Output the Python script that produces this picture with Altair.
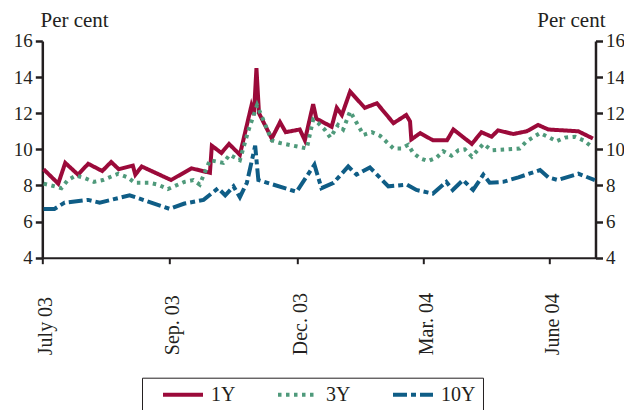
import altair as alt
import pandas as pd

# ---------------- data ----------------
series_names = ["1Y", "3Y", "10Y"]

# x is the observation position on the chart's index axis (tick every 20 units)
t_1y = [0.2, 2.5, 3.6, 5.6, 7.2, 9.4, 10.8, 12.0, 14.2, 14.6, 15.6, 20.2, 23.4, 26.3, 26.6,
        28.1, 29.3, 31.0, 32.8, 33.2, 33.6, 34.0, 36.0, 37.3, 38.2, 40.4, 41.2, 42.5, 43.0,
        45.4, 46.2, 47.0, 48.3, 50.6, 52.5, 55.1, 57.1, 57.7, 57.9, 59.3, 61.3, 63.5, 64.5,
        67.4, 68.9, 70.5, 71.5, 73.9, 76.0, 77.8, 79.4, 84.1, 86.4]
v_1y = [8.9, 8.1, 9.25, 8.6, 9.2, 8.8, 9.3, 8.9, 9.1, 8.6, 9.05, 8.3, 8.95, 8.7, 10.2,
        9.8, 10.3, 9.7, 12.4, 11.9, 14.5, 12.0, 10.6, 11.5, 10.95, 11.1, 10.5, 12.5, 11.7,
        11.25, 12.3, 11.9, 13.2, 12.3, 12.55, 11.45, 11.9, 11.55, 10.55, 10.9, 10.5, 10.5, 11.1,
        10.3, 10.95, 10.7, 11.05, 10.85, 11.0, 11.35, 11.1, 11.0, 10.6]

t_3y = [0.2, 1.4, 3.0, 4.0, 5.3, 6.7, 8.1, 9.5, 11.9, 13.4, 14.5, 16.8, 18.1, 19.7, 22.3,
        23.7, 24.7, 26.3, 28.4, 29.4, 31.0, 32.3, 33.7, 36.0, 37.3, 39.4, 41.5, 42.5, 43.3,
        44.3, 45.2, 46.4, 47.2, 48.3, 50.4, 51.7, 53.0, 55.1, 56.4, 57.4, 58.2, 59.3, 60.5,
        61.9, 62.9, 64.2, 65.3, 66.3, 67.4, 69.2, 70.5, 74.9, 76.0, 78.1, 79.6, 80.7, 82.0,
        83.6, 84.9, 86.4]
v_3y = [8.1, 8.0, 7.85, 8.3, 8.55, 8.4, 8.2, 8.3, 8.65, 8.45, 8.15, 8.15, 8.05, 7.8, 8.2,
        8.3, 8.05, 9.4, 9.25, 9.7, 9.4, 11.0, 12.45, 10.5, 10.35, 10.2, 10.05, 11.65, 11.45,
        11.1, 10.65, 11.35, 11.1, 12.1, 10.8, 10.95, 10.75, 10.05, 10.05, 10.25, 9.8, 9.5, 9.35,
        9.55, 9.9, 9.65, 9.95, 10.0, 9.6, 10.3, 9.95, 10.05, 10.45, 10.9, 10.65, 10.45, 10.65,
        10.7, 10.5, 10.1]

t_10y = [0.2, 1.9, 3.5, 7.2, 9.0, 13.7, 15.0, 20.0, 22.3, 25.3, 27.6, 28.7, 30.0, 31.0, 32.1,
         33.4, 33.9, 39.9, 42.7, 43.8, 45.7, 48.0, 49.3, 51.4, 54.3, 57.2, 58.7, 61.3, 63.4,
         64.4, 66.0, 67.6, 69.2, 70.2, 72.3, 74.7, 78.1, 79.4, 80.9, 84.1, 86.7]
v_10y = [6.7, 6.7, 7.05, 7.2, 7.05, 7.45, 7.3, 6.7, 7.0, 7.2, 7.85, 7.45, 7.95, 7.35, 8.15,
         10.2, 8.3, 7.65, 9.15, 7.85, 8.15, 9.05, 8.6, 9.0, 7.95, 8.05, 7.75, 7.55, 8.2,
         7.75, 8.3, 7.75, 8.6, 8.15, 8.2, 8.45, 8.85, 8.45, 8.3, 8.65, 8.3]

tick_pos = [0, 20, 40, 59.8, 79.6]
tick_lab = ["July 03", "Sep. 03", "Dec. 03", "Mar. 04", "June 04"]
y_ticks = [4, 6, 8, 10, 12, 14, 16]

# ---------------- styling ----------------
colors = ["#9B0A3A", "#4F9A7B", "#0F5D86"]
dashes = [[1, 0], [3.5, 4.5], [14, 4, 5, 4]]
FONT = "Liberation Serif"
TXT = "#231F20"

rows = []
for name, ts, vs in zip(series_names, [t_1y, t_3y, t_10y], [v_1y, v_3y, v_10y]):
    for t, v in zip(ts, vs):
        rows.append({"t": t, "v": v, "series": name})
df = pd.DataFrame(rows)

parts = []
for i in range(len(tick_pos) - 1):
    mid = (tick_pos[i] + tick_pos[i + 1]) / 2
    parts.append(f"datum.value < {mid} ? '{tick_lab[i]}'")
label_expr = " : ".join(parts) + f" : '{tick_lab[-1]}'"

x_scale = alt.Scale(domain=[0, 86.8], nice=False, zero=False)
y_scale = alt.Scale(domain=[4, 16], nice=False, zero=False)

common_axis = dict(
    grid=False, labelFont=FONT, labelColor=TXT,
    domainColor=TXT, tickColor=TXT, titleFont=FONT, titleFontSize=21,
    titleColor=TXT, titleFontWeight="normal",
)

x_axis = alt.Axis(values=tick_pos, labelExpr=label_expr, labelAngle=270,
                  labelAlign="left", labelBaseline="middle", labelPadding=91,
                  labelOffset=3, labelFontSize=20, tickSize=6, tickWidth=2,
                  domainWidth=2, title=None, labelFlush=False, labelOverlap=False,
                  **common_axis)

legend = alt.Legend(
    title=None, orient="none", legendX=99.7, legendY=336.7, direction="horizontal",
    symbolType="M-2.5,0H2.5", symbolSize=256, symbolStrokeWidth=4,
    labelFont=FONT, labelFontSize=20, labelColor=TXT, labelOffset=18,
    columnPadding=28, padding=7, symbolOffset=24, strokeColor=TXT,
)

lines = alt.Chart(df).mark_line(strokeWidth=4, strokeCap="butt").encode(
    x=alt.X("t:Q", scale=x_scale, axis=x_axis),
    y=alt.Y("v:Q", scale=y_scale,
            axis=alt.Axis(orient="left", values=y_ticks, tickSize=7, tickWidth=2.5,
                          domainWidth=2.5, labelPadding=3, labelFontSize=19,
                          title="Per cent", titleAngle=0, titleX=-2.3, titleY=-14.3,
                          titleAlign="left", titleBaseline="alphabetic", **common_axis)),
    color=alt.Color("series:N", scale=alt.Scale(domain=series_names, range=colors),
                    legend=legend),
    strokeDash=alt.StrokeDash("series:N", scale=alt.Scale(domain=series_names, range=dashes),
                              legend=legend),
    order=alt.Order("t:Q"),
)

right = alt.Chart(df).mark_line(opacity=0).encode(
    x=alt.X("t:Q", scale=x_scale),
    y=alt.Y("v:Q", scale=y_scale,
            axis=alt.Axis(orient="right", values=y_ticks, tickSize=7, tickWidth=2.5,
                          domainWidth=2.5, labelPadding=3, labelFontSize=19,
                          title="Per cent", titleAngle=0, titleX=9.5, titleY=-14.3,
                          titleAlign="right", titleBaseline="alphabetic", **common_axis)),
    detail="series:N",
)

chart = alt.layer(lines, right).resolve_scale(y="independent").properties(
    width=553.2, height=216.7,
    autosize=alt.AutoSizeParams(type="none"),
    padding={"left": 34.3, "top": 33, "right": 28.5, "bottom": 152},
).configure_view(stroke=None)

chart.save("out.html", embed_options={"renderer": "svg", "actions": False})
